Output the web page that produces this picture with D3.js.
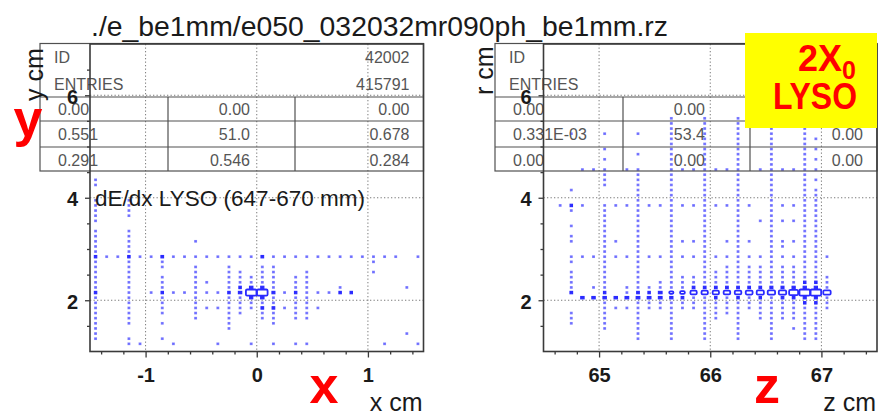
<!DOCTYPE html>
<html>
<head>
<meta charset="utf-8">
<script src="https://cdn.jsdelivr.net/npm/d3@7"></script>
<style>
  html, body { margin: 0; padding: 0; background: #fff; }
  svg { display: block; font-family: "Liberation Sans", Arial, Helvetica, sans-serif; }
</style>
</head>
<body>
<svg id="chart" width="895" height="418"></svg>
<script>
// ---------------------------------------------------------------------------
// Text
const fileTitle = "./e_be1mm/e050_032032mr090ph_be1mm.rz";
const histLabel = "dE/dx LYSO (647-670 mm)";

// Histogram binning: 0.1 cm columns, rows of 0.1 cm from 1 to 7 cm.
// Row r spans 1.0 + 0.1 r ... 1.1 + 0.1 r.
const rowLo = 1, rowW = 0.1, colW = 0.1;

// ---------------------------------------------------------------------------
// Left histogram: y vs x. Column centres and the occupied rows in each.
const xCols = [-1.45, -1.35, -1.25, -1.15, -1.05, -0.95, -0.85, -0.75, -0.65, -0.55,
               -0.45, -0.35, -0.25, -0.15, -0.05, 0.05, 0.15, 0.25, 0.35, 0.45,
               0.55, 0.65, 0.75, 0.85, 0.95, 1.05, 1.15, 1.25, 1.35, 1.45];
const xRows = [
  [2,3,4,5,6,7,8,9,10,11,12,13,14,15,16,17,18,19,20,21,22,23,25,26,27,28,29,32,33],
  [18],
  [18],
  [1,2,5,6,7,8,9,10,11,12,13,14,15,16,17,18,19,20,21,22,23,26,27,28,29],
  [1,18],
  [11,18],
  [2,5,7,8,9,10,11,12,13,14,16,17,18],
  [1,11,18],
  [11,18],
  [6,7,8,9,10,11,12,13,14,15,16,18,21],
  [8,11,13,18],
  [1,8,11,18],
  [4,5,6,7,8,9,10,11,12,13,14,15,16,18],
  [7,8,9,10,11,12,13,14,15,18],
  [1,8,9,10,11,12,13,14,18],
  [6,7,8,9,10,11,12,13,14,15,16,18],
  [1,5,6,7,8,9,10,11,12,13,14,15,16,18],
  [8,11,18],
  [1,6,7,8,9,10,11,12,13,14,18],
  [1,6,7,8,9,10,11,12,13,14,15,18],
  [8,11,18],
  [11,18],
  [11,12,18],
  [11,18],
  [18],
  [15,17,18],
  [1,18],
  [18],
  [3,12],
  [1,18]
];
// Cells with more content: [x, row, size relative to the fullest cell]
const xHeavy = [
  [-0.05,11,1.0],[0.05,11,1.0],[-0.15,11,0.32],[-0.05,12,0.32],[-0.05,10,0.3],
  [0.05,12,0.3],[0.05,10,0.32],[0.05,8,0.25],[0.15,11,0.28],[0.15,8,0.25],
  [-0.15,12,0.22],[-0.85,18,0.25],[0.05,18,0.25],[-1.45,18,0.22],[-1.15,18,0.22],
  [-1.45,11,0.2],[-0.25,11,0.22],[0.35,11,0.22],[-0.85,11,0.2],[0.75,11,0.22],[0.85,11,0.2]
];

// ---------------------------------------------------------------------------
// Right histogram: r vs z.
const zCols = [64.65, 64.75, 64.85, 64.95, 65.05, 65.15, 65.25, 65.35, 65.45, 65.55,
               65.65, 65.75, 65.85, 65.95, 66.05, 66.15, 66.25, 66.35, 66.45, 66.55,
               66.65, 66.75, 66.85, 66.95, 67.05];
const zRows = [
  [28],
  [5,6,7,11,12,13,14,15,17,18,21,22,24,27,28,31,42],
  [10,18,28,35],
  [10,12,18,35],
  [4,5,6,7,8,9,10,11,12,13,14,15,16,17,18,19,20,21,22,23,24,25,26,27,28,32,33,34,35,37,39,42],
  [8,10,18,21,28],
  [8,10,11,12,18,28,35],
  [2,3,4,5,6,7,8,9,10,11,12,13,14,15,16,17,18,19,20,21,22,23,24,25,26,27,28,29,30,31,32,33,34,35,38,42],
  [8,9,10,11,12,18,28],
  [8,9,10,11,12,13,18,28],
  [2,3,4,5,6,7,8,9,10,11,12,13,14,15,16,17,18,19,20,21,22,23,24,25,26,27,28,29,30,31,32,33,34,35,36,37,38,39,40,41,42,43,44,45],
  [8,9,10,11,12,13,14,18,21,28,35],
  [8,9,10,11,12,13,14,18,21,28,35],
  [2,3,4,5,6,7,8,9,10,11,12,13,14,15,16,17,18,19,20,21,22,23,24,25,26,27,28,29,30,31,32,33,34,35,36,37,38,39,40,41,42,43,44,45],
  [6,7,8,9,10,11,12,13,14,15,18,28,35],
  [7,8,9,10,11,12,13,14,15,16,18,21,28,35],
  [2,3,4,5,6,7,8,9,10,11,12,13,14,15,16,17,18,19,20,21,22,23,24,25,26,27,28,29,30,31,32,33,34,35,36,37,38,39,40,41,42,43,44,45],
  [8,9,10,11,12,13,14,15,16,18,21,28],
  [6,7,8,9,10,11,12,13,14,15,16,18,25,35],
  [2,3,4,5,6,7,8,9,10,11,12,13,14,15,16,17,18,19,20,21,22,23,24,25,26,27,28,29,30,31,32,33,34,35,36,37,38,39,40,41,42,43],
  [6,7,8,9,10,11,12,13,14,15,16,18,20,21,25,28,35],
  [4,6,7,8,9,10,11,12,13,14,15,16,18,21,25,28,35],
  [2,3,4,5,6,7,8,9,10,11,12,13,14,15,16,17,18,19,20,21,22,23,24,25,26,27,28,29,30,31,32,33,34,35,36,37,38,39,40,41,42,43],
  [2,3,4,5,6,7,8,9,10,11,12,13,14,15,16,17,18,19,20,21,22,23,24,25,26,27,28,29,30,31,33,35,37,39,41],
  [8,9,10,11,12,13,14,18]
];
const zHeavy = [
  [64.75,11,0.25],[64.75,28,0.22],[64.85,10,0.32],[64.95,10,0.32],[65.05,10,0.32],[65.05,11,0.2],
  [65.15,10,0.32],[65.25,10,0.35],[65.35,10,0.35],[65.35,11,0.25],[65.45,10,0.35],[65.45,11,0.2],
  [65.55,10,0.35],[65.55,11,0.35],[65.65,10,0.3],[65.65,11,0.4],[65.75,11,0.45],[65.75,10,0.25],
  [65.85,11,0.6],[65.95,11,0.6],[66.05,11,0.6],[66.15,11,0.62],[66.25,11,0.62],[66.35,11,0.65],
  [66.45,11,0.68],[66.55,11,0.7],[66.65,11,0.7],[66.75,11,0.85],[66.85,11,1.0],[66.95,11,1.0],
  [67.05,11,0.7],
  [65.85,12,0.25],[65.95,12,0.25],[66.05,12,0.25],[66.15,12,0.25],[66.25,12,0.25],[66.35,12,0.25],
  [66.45,12,0.25],[66.55,12,0.28],[66.65,12,0.28],[66.75,12,0.3],[66.85,12,0.3],[66.95,12,0.3],
  [66.05,10,0.22],[66.25,10,0.22],[66.45,10,0.22],[66.65,10,0.25],[66.75,10,0.25],[66.85,10,0.28],
  [66.95,10,0.28],[66.85,13,0.22],[66.95,13,0.22],[66.95,9,0.22],[66.85,9,0.22]
];

// ---------------------------------------------------------------------------
// Axes
const yMajor = [2, 4, 6];
const yMinor = [1.5, 2.5, 3, 3.5, 4.5, 5, 5.5, 6.5];
const xMajor = [-1, 0, 1];
const xMinor = [-1.4, -1.2, -0.8, -0.6, -0.4, -0.2, 0.2, 0.4, 0.6, 0.8, 1.2, 1.4];
const zMajor = [65, 66, 67];
const zMinor = [64.6, 64.8, 65.2, 65.4, 65.6, 65.8, 66.2, 66.4, 66.6, 66.8, 67.2, 67.4];

// Statistics tables
const xStatsHead = [["ID", "42002"], ["ENTRIES", "415791"]];
const xStatsGrid = [["0.00", "0.00", "0.00"], ["0.551", "51.0", "0.678"], ["0.291", "0.546", "0.284"]];
const zStatsHead = [["ID", ""], ["ENTRIES", ""]];
const zStatsGrid = [["0.00", "0.00", ""], ["0.331E-03", "53.4", "0.00"], ["0.00", "0.00", "0.00"]];

// ---------------------------------------------------------------------------
const svg = d3.select("#chart");
const TOP = 44, BOTTOM = 351.5;
const blueDot = "#5a5aff", blueBox = "#2a2aff";

function buildCells(cols, rows, heavy) {
  const key = (c, r) => c.toFixed(2) + ":" + r;
  const size = new Map(heavy.map(d => [key(d[0], d[1]), d[2]]));
  const cells = [];
  const seen = new Set();
  cols.forEach((c, i) => rows[i].forEach(r => {
    const k = key(c, r);
    seen.add(k);
    cells.push({ c, r, v: size.has(k) ? size.get(k) : 0.12 });
  }));
  heavy.forEach(d => { if (!seen.has(key(d[0], d[1]))) cells.push({ c: d[0], r: d[1], v: d[2] }); });
  return cells.sort((a, b) => a.v - b.v);
}

function panel(opt) {
  const g = svg.append("g");
  const x = d3.scaleLinear().domain(opt.domain).range([opt.left, opt.right]);
  const y = d3.scaleLinear().domain([1, 7]).range([BOTTOM, TOP]);

  // dotted grid at the major ticks
  const grid = g.append("g").attr("stroke", "#7a7a7a").attr("stroke-width", 1)
    .attr("stroke-dasharray", "1.3,2.2");
  grid.selectAll("line.v").data(opt.major).join("line")
    .attr("x1", d => x(d)).attr("x2", d => x(d)).attr("y1", TOP).attr("y2", BOTTOM);
  grid.selectAll("line.h").data(yMajor).join("line")
    .attr("x1", opt.left).attr("x2", opt.right).attr("y1", d => y(d)).attr("y2", d => y(d));

  // box-plot cells: box side proportional to relative content
  const bw = Math.abs(x(opt.domain[0] + colW) - x(opt.domain[0]));
  const bh = Math.abs(y(1 + rowW) - y(1));
  const cw = d => d.v < 0.2 ? 1.8 : Math.max(2.4, d.v * bw * 0.95);
  const ch = d => d.v < 0.2 ? 1.6 : (d.v < 0.4 ? 2.4 : d.v * bh * 1.2);
  const cells = buildCells(opt.cols, opt.rows, opt.heavy);
  g.append("g").selectAll("rect").data(cells).join("rect")
    .attr("x", d => x(d.c) - cw(d) / 2)
    .attr("y", d => y(rowLo + rowW * (d.r + 0.5)) - ch(d) / 2)
    .attr("width", cw)
    .attr("height", ch)
    .attr("rx", d => d.v >= 0.4 ? 1.2 : 0)
    .attr("fill", d => d.v < 0.2 ? blueDot : (d.v < 0.4 ? blueBox : "#ffffff"))
    .attr("fill-opacity", d => d.v < 0.2 ? 0.75 : 1)
    .attr("stroke", d => d.v < 0.2 ? blueDot : blueBox)
    .attr("stroke-opacity", d => d.v < 0.2 ? 0.7 : 1)
    .attr("stroke-width", d => d.v >= 0.4 ? 1.8 : 1.1);

  // statistics table (outline only, the histogram shows through)
  const s = g.append("g").attr("stroke", "#505050").attr("stroke-width", 1.2).attr("fill", "none");
  const sl = opt.statsLeft, sr = opt.right;
  s.append("rect").attr("x", sl).attr("y", 43.5).attr("width", sr - sl).attr("height", 171 - 43.5);
  [97, 121, 147].forEach(yy => s.append("line").attr("x1", sl).attr("x2", sr).attr("y1", yy).attr("y2", yy));
  const c1 = sl + 128, c2 = sl + 255;
  [c1, c2].forEach(xx => s.append("line").attr("x1", xx).attr("x2", xx).attr("y1", 97).attr("y2", 171));

  const st = g.append("g").attr("font-size", 16).attr("fill", "#555");
  opt.head.forEach((row, i) => {
    const b = [63, 90][i];
    st.append("text").attr("x", sl + 14).attr("y", b).text(row[0]);
    st.append("text").attr("x", sr - 14).attr("y", b).attr("text-anchor", "end").text(row[1]);
  });
  opt.grid.forEach((row, i) => {
    const b = [115, 140, 166][i];
    st.append("text").attr("x", sl + 18).attr("y", b).text(row[0]);
    st.append("text").attr("x", c2 - 45).attr("y", b).attr("text-anchor", "end").text(row[1]);
    st.append("text").attr("x", sr - 14).attr("y", b).attr("text-anchor", "end").text(row[2]);
  });

  // frame
  g.append("rect").attr("x", opt.left).attr("y", TOP).attr("width", opt.right - opt.left)
    .attr("height", BOTTOM - TOP).attr("fill", "none").attr("stroke", "#3a3a3a").attr("stroke-width", 1.6);

  // axes
  const styleAxis = a => {
    a.select(".domain").remove();
    a.selectAll("line").attr("stroke", "#3a3a3a").attr("stroke-width", 1.3);
    a.selectAll("text").attr("font-size", 20).attr("font-weight", "bold")
      .attr("fill", "#1a1a1a").attr("font-family", "'Liberation Sans', Arial, sans-serif");
  };
  const fmt = d => String(d);
  g.append("g").attr("transform", `translate(0,${BOTTOM})`)
    .call(d3.axisBottom(x).tickValues(opt.minor).tickSize(3).tickFormat("")).call(styleAxis);
  g.append("g").attr("transform", `translate(0,${BOTTOM})`)
    .call(d3.axisBottom(x).tickValues(opt.major).tickSize(6).tickPadding(10).tickFormat(fmt)).call(styleAxis);
  g.append("g").attr("transform", `translate(${opt.left},0)`)
    .call(d3.axisLeft(y).tickValues(yMinor).tickSize(3).tickFormat("")).call(styleAxis);
  const ya = g.append("g").attr("transform", `translate(${opt.left},0)`)
    .call(d3.axisLeft(y).tickValues(yMajor).tickSize(5).tickPadding(7).tickFormat(fmt)).call(styleAxis);
  ya.selectAll("text").attr("dy", "0.4em");

  // axis titles
  g.append("text").attr("x", opt.right - 1).attr("y", 411).attr("text-anchor", "end")
    .attr("font-size", 25).attr("fill", "#1a1a1a").text(opt.xTitle);
  g.append("text").attr("transform", `translate(${opt.yTitleX},${opt.yTitleY}) rotate(-90)`)
    .attr("font-size", 25).attr("fill", "#1a1a1a").text(opt.yTitle);

  return { g, x, y };
}

const left = panel({
  domain: [-1.5, 1.5], left: 90, right: 423.5, statsLeft: 40,
  cols: xCols, rows: xRows, heavy: xHeavy, major: xMajor, minor: xMinor,
  head: xStatsHead, grid: xStatsGrid,
  xTitle: "x cm", yTitle: "y cm", yTitleX: 43, yTitleY: 101
});
const right = panel({
  domain: [64.5, 67.5], left: 543.5, right: 877, statsLeft: 495,
  cols: zCols, rows: zRows, heavy: zHeavy, major: zMajor, minor: zMinor,
  head: zStatsHead, grid: zStatsGrid,
  xTitle: "z cm", yTitle: "r cm", yTitleX: 493, yTitleY: 95
});

// histogram caption inside the left frame
left.g.append("text").attr("x", 95).attr("y", 206).attr("font-size", 22)
  .attr("fill", "#1a1a1a").attr("textLength", 270).attr("lengthAdjust", "spacingAndGlyphs")
  .text(histLabel);

// file title
svg.append("text").attr("x", 91).attr("y", 36).attr("font-size", 28).attr("fill", "#1a1a1a")
  .attr("textLength", 577).attr("lengthAdjust", "spacingAndGlyphs").text(fileTitle);

// red coordinate letters
const red = svg.append("g").attr("fill", "#ff0000").attr("font-weight", "bold").attr("font-size", 52)
  .attr("text-anchor", "middle");
red.append("text").attr("x", 28).attr("y", 136).text("y");
red.append("text").attr("x", 324).attr("y", 403).text("x");
red.append("text").attr("x", 767).attr("y", 403).text("z");

// material tag
const tag = svg.append("g");
tag.append("rect").attr("x", 745).attr("y", 33).attr("width", 132).attr("height", 95).attr("fill", "#ffff00");
const t1 = tag.append("text").attr("x", 798).attr("y", 71).attr("fill", "#ff0000")
  .attr("font-weight", "bold").attr("font-size", 36);
t1.append("tspan").text("2X");
t1.append("tspan").attr("font-size", 25).attr("dy", 8).text("0");
tag.append("text").attr("x", 773).attr("y", 109).attr("fill", "#ff0000").attr("font-weight", "bold")
  .attr("font-size", 36).attr("textLength", 84).attr("lengthAdjust", "spacingAndGlyphs").text("LYSO");
</script>
</body>
</html>
